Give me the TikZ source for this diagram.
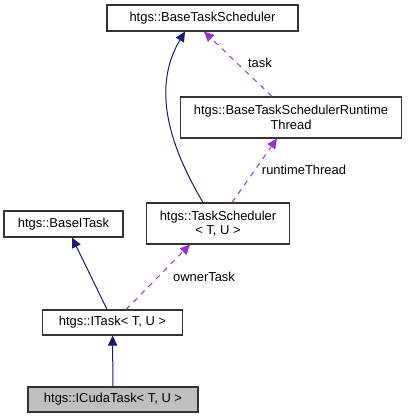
\documentclass[tikz,border=0pt]{standalone}
\usepackage{fontspec}
\setmainfont{Liberation Sans}
\usetikzlibrary{arrows.meta}
\definecolor{Midnight}{RGB}{25,25,112}
\definecolor{Orchid}{RGB}{154,50,205}
\definecolor{FocusBg}{RGB}{191,191,191}
\tikzset{
  cls/.style={rectangle,draw=black!80,fill=white,line width=0.8pt,
              font=\fontsize{9.7}{10.7}\selectfont,align=center,inner sep=0pt},
  clsfocus/.style={cls,fill=FocusBg},
  inh/.style={-{Triangle[length=7.5pt,width=7pt]},Midnight,line width=0.75pt},
  use/.style={-{Triangle[length=7.5pt,width=7pt]},Orchid,line width=0.75pt,
              dash pattern=on 4pt off 4pt},
  ulabel/.style={font=\fontsize{9.7}{10.7}\selectfont,inner sep=0pt},
}

\begin{document}
\begin{tikzpicture}[x=0.75pt,y=-0.75pt]
  \useasboundingbox (0,0) rectangle (408,419);
  % classes
  \node[cls,minimum width=143.25pt,minimum height=19.5pt] (bts) at (202.5,18) {htgs::BaseTaskScheduler};
  \node[cls,minimum width=165.75pt,minimum height=30.75pt] (rt) at (291,117.5) {htgs::BaseTaskSchedulerRuntime\\Thread};
  \node[cls,minimum width=89.25pt,minimum height=19.5pt] (bit) at (63.5,224) {htgs::BaseITask};
  \node[cls,minimum width=107.25pt,minimum height=30.75pt] (ts) at (218,223.5) {htgs::TaskScheduler\\< T, U >};
  \node[cls,minimum width=105pt,minimum height=18.75pt] (itask) at (112.5,322.5) {htgs::ITask< T, U >};
  \node[clsfocus,minimum width=127.5pt,minimum height=18.75pt] (cuda) at (113,399.5) {htgs::ICudaTask< T, U >};
  % inheritance
  \draw[inh] (cuda) -- (itask);
  \draw[inh] ([xshift=-4.1pt]itask.north) -- ([xshift=6.4pt]bit.south);
  \draw[inh] ([xshift=-11.25pt]ts.north) .. controls (172,150) and (150,90) .. ([xshift=-13.1pt]bts.south);
  % usage
  \draw[use] ([xshift=10.1pt]itask.north) -- ([xshift=-21pt]ts.south);
  \draw[use] ([xshift=10.5pt]ts.north) -- ([xshift=-10.5pt]rt.south);
  \draw[use] ([xshift=-14.25pt]rt.north) -- ([xshift=1.1pt]bts.south);
  \node[ulabel] (lowner) at (204,277) {ownerTask};
  \node[ulabel] (lrun) at (304,170) {runtimeThread};
  \node[ulabel] (ltask) at (260,63) {task};
\end{tikzpicture}
\end{document}
